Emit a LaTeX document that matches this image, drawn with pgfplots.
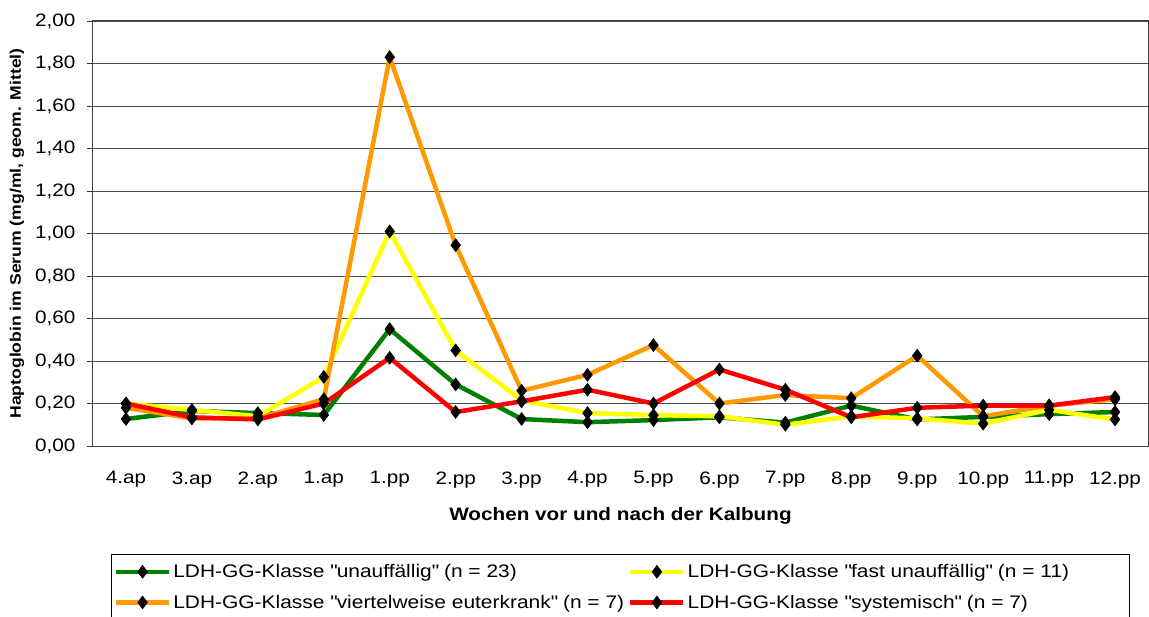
\documentclass[border=0pt]{standalone}
\usepackage{pgfplots}
\pgfplotsset{compat=1.18}
\usepackage{fontspec}
\setmainfont[FakeStretch=1.15]{Liberation Sans}
\definecolor{cgreen}{RGB}{0,128,0}
\definecolor{cyellow}{RGB}{255,255,0}
\definecolor{corange}{RGB}{255,153,0}
\definecolor{cred}{RGB}{255,0,0}
\newcommand{\q}{\textquotedbl}
\begin{document}
\begin{tikzpicture}
\begin{axis}[
    scale only axis,
    width=1055pt, height=425pt,
    xmin=-0.5, xmax=15.5,
    ymin=0, ymax=2,
    clip=false,
    ytick={0,0.2,...,2.01},
    xtick={0,...,15},
    xticklabels={4.ap,3.ap,2.ap,1.ap,1.pp,2.pp,3.pp,4.pp,5.pp,6.pp,7.pp,8.pp,9.pp,10.pp,11.pp,12.pp},
    major x tick style={draw=none},
    extra x ticks={-0.5,0.5,...,15.6},
    extra x tick labels={},
    extra x tick style={major tick length=7pt, tick style={black!80, line width=0.9pt}, grid=none},
    tick align=outside,
    tick pos=left,
    major tick length=6pt,
    ytick style={black!80, line width=0.9pt},
    ymajorgrids,
    grid style={black!70, line width=0.8pt},
    axis line style={black!75, line width=1pt},
    yticklabel style={xshift=-8pt, /pgf/number format/.cd, fixed, fixed zerofill, precision=2, use comma, assume math mode=true},
    ticklabel style={font=\fontsize{18}{21}\selectfont},
    xticklabel style={yshift=-16pt},
    xlabel={\bfseries Wochen vor und nach der Kalbung},
    xlabel style={font=\fontsize{18}{21}\selectfont, at={(axis description cs:0.5,0)}, anchor=center, yshift=-70pt},
    ylabel={\bfseries Haptoglobin im Serum (mg/ml, geom. Mittel)},
    ylabel style={font=\fontsize{15.3}{18}\selectfont, at={(axis description cs:-0.072,0.5)}, anchor=center},
    every axis plot/.append style={line width=4.5pt, mark=diamond*, mark size=6.5pt, mark options={black, fill=black, line width=0.5pt}},
    legend columns=2,
    legend cell align=left,
    legend style={at={(0.5,-0.254)}, anchor=north, draw=black, line width=1pt,
        font=\fontsize{18.2}{21}\selectfont, inner xsep=2pt, inner ysep=8pt, row sep=12pt,
        /tikz/every even column/.append style={column sep=2pt}},
    legend image code/.code={\draw[#1, line width=4.5pt] (0pt,0pt) -- (53pt,0pt); \draw[#1, line width=0.5pt] plot coordinates {(26.5pt,0pt)};},
]
\addplot[cgreen] coordinates {(0,0.127) (1,0.165) (2,0.155) (3,0.146) (4,0.55) (5,0.29) (6,0.127) (7,0.112) (8,0.122) (9,0.135) (10,0.11) (11,0.19) (12,0.125) (13,0.137) (14,0.15) (15,0.16)};
\addlegendentry{LDH-GG-Klasse \q unauffällig\q{} (n = 23)}
\addplot[cyellow] coordinates {(0,0.20) (1,0.17) (2,0.14) (3,0.325) (4,1.01) (5,0.45) (6,0.215) (7,0.155) (8,0.145) (9,0.14) (10,0.10) (11,0.14) (12,0.13) (13,0.105) (14,0.17) (15,0.125)};
\addlegendentry{LDH-GG-Klasse \q fast unauffällig\q{} (n = 11)\hspace*{56pt}}
\addplot[corange] coordinates {(0,0.18) (1,0.13) (2,0.13) (3,0.22) (4,1.83) (5,0.945) (6,0.26) (7,0.335) (8,0.475) (9,0.20) (10,0.24) (11,0.225) (12,0.425) (13,0.14) (14,0.19) (15,0.22)};
\addlegendentry{LDH-GG-Klasse \q viertelweise euterkrank\q{} (n = 7)}
\addplot[cred] coordinates {(0,0.20) (1,0.135) (2,0.125) (3,0.20) (4,0.415) (5,0.16) (6,0.21) (7,0.265) (8,0.20) (9,0.36) (10,0.265) (11,0.135) (12,0.18) (13,0.19) (14,0.19) (15,0.23)};
\addlegendentry{LDH-GG-Klasse \q systemisch\q{} (n = 7)}
\coordinate (tl) at (rel axis cs:0,1);
\coordinate (br) at (rel axis cs:1,0);
\end{axis}
\pgfresetboundingbox
\path[use as bounding box] ([shift={(-93pt,21pt)}]tl) rectangle ([shift={(1pt,-170pt)}]br);
\end{tikzpicture}
\end{document}
